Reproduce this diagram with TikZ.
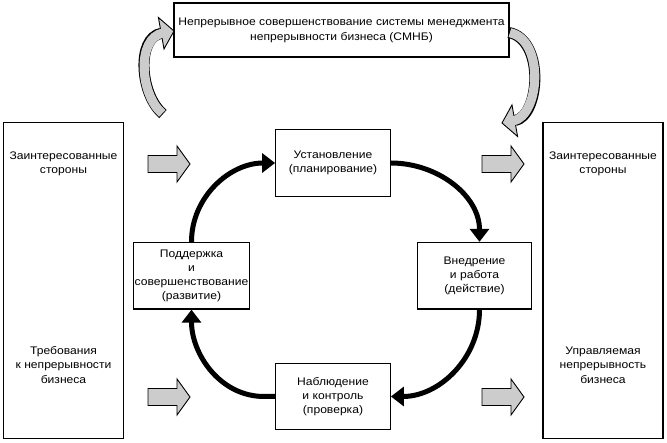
\documentclass[tikz,border=0pt]{standalone}
\usepackage{fontspec}
\setmainfont[FakeStretch=1.1]{Liberation Sans}
\usetikzlibrary{arrows.meta}
\newcommand\gLpath{(163,-114) .. controls (140,-95) and (136,-38) .. (161.2,-33.3)}
\newcommand\gRpath{(509,-32.5) .. controls (545,-40) and (540,-116) .. (514.8,-120.7)}
\begin{document}
\begin{tikzpicture}[x=1pt,y=1pt,
  box/.style={draw, line width=1.3pt, rectangle, inner sep=1pt, align=center, font=\fontsize{11}{14}\selectfont},
  cycbox/.style={box, minimum width=114.5pt, minimum height=66.5pt},
  bigbox/.style={draw, line width=1.3pt, rectangle, minimum width=120pt, minimum height=316pt, inner sep=0pt},
  lbl/.style={align=center, font=\fontsize{11}{14.5}\selectfont, inner sep=0pt},
  cyc/.style={line width=5pt, -{Triangle[length=13pt,width=19pt]}},
  garrow/.style={draw=black, fill=gray!40, line width=0.9pt, line join=miter},
  gband/.style={line width=11pt, black},
  gbandin/.style={line width=9.2pt, gray!40, shorten <=0.9pt, shorten >=-2pt},
  blockarrow/.pic={\path[garrow] (-21,-8.5) -- (8,-8.5) -- (8,-18) -- (21,0) -- (8,18) -- (8,8.5) -- (-21,8.5) -- cycle;}
]
\useasboundingbox (0,0) rectangle (667,-443);

% top box
\node[box, minimum width=335pt, minimum height=54pt, font=\fontsize{11}{15}\selectfont] (M) at (341.5,-30)
  {Непрерывное совершенствование системы менеджмента\\непрерывности бизнеса (СМНБ)};

% big side boxes
\node[bigbox] (LB) at (63.75,-280.5) {};
\node[bigbox] (RB) at (603,-280.5) {};
\node[lbl] (LB1) at (63.5,-164) {Заинтересованные\\стороны};
\node[lbl] (LB2) at (63.5,-365) {Требования\\к непрерывности\\бизнеса};
\node[lbl] (RB1) at (603,-164) {Заинтересованные\\стороны};
\node[lbl] (RB2) at (603,-365) {Управляемая\\непрерывность\\бизнеса};

% cycle boxes
\node[cycbox] (T) at (333,-163) {Установление\\(планирование)};
\node[cycbox] (L) at (191.5,-275.75) {Поддержка\\и\\совершенствование\\(развитие)};
\node[cycbox] (R) at (474.5,-275.75) {Внедрение\\и работа\\(действие)};
\node[cycbox] (B) at (333,-396.5) {Наблюдение\\и контроль\\(проверка)};

% cycle arrows
\draw[cyc] (L.north) to[out=90,in=180] (T.west);
\draw[cyc] (T.east) to[out=0,in=90] ([xshift=5pt]R.north);
\draw[cyc] ([xshift=5pt]R.south) to[out=270,in=0] (B.east);
\draw[cyc] (B.west) -- ++(-11,0) to[out=180,in=270] (L.south);

% block arrows
\pic at (169,-164) {blockarrow};
\pic at (169,-397) {blockarrow};
\pic at (503,-164) {blockarrow};
\pic at (503,-397) {blockarrow};

% curved gray arrows
\draw[gband] \gLpath;
\path[garrow] (174,-31) -- (164,-49) -- (158.4,-17.5) -- cycle;
\draw[gbandin] \gLpath;

\draw[gband] \gRpath;
\path[garrow] (502,-123) -- (517.6,-136.5) -- (512,-104.9) -- cycle;
\draw[gbandin] \gRpath;
\end{tikzpicture}
\end{document}
